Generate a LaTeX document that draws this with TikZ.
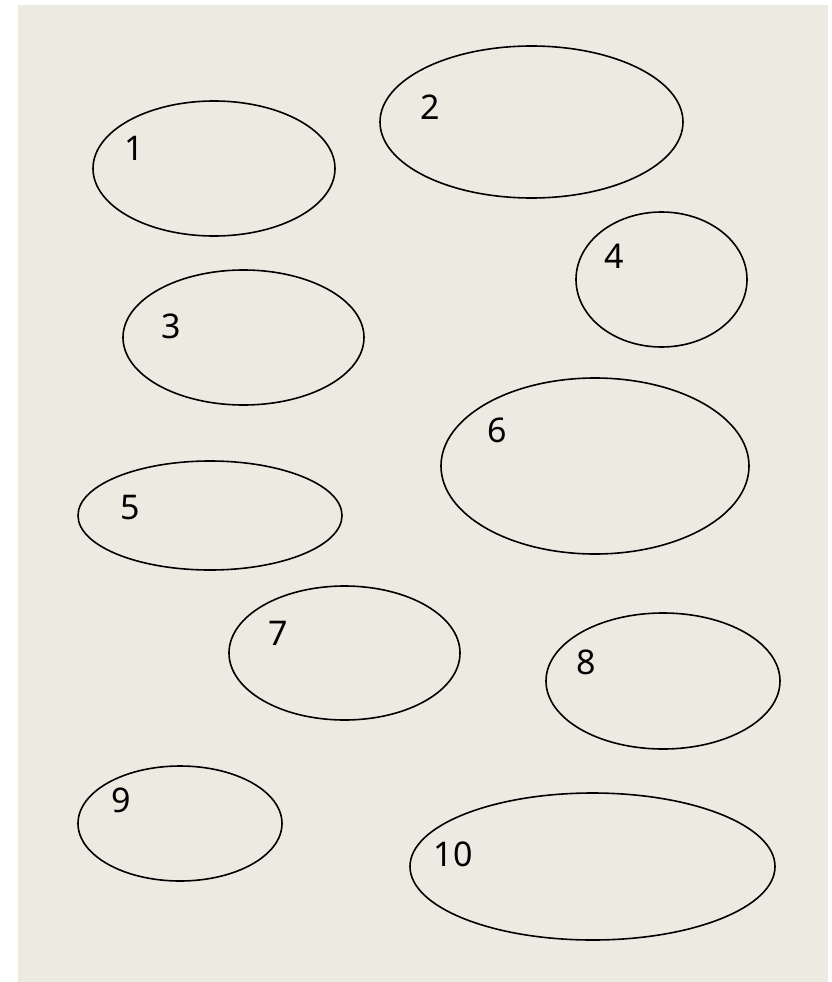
\documentclass[tikz,border=0pt]{standalone}
\usepackage{fontspec}
\setmainfont{Noto Sans}
\usetikzlibrary{shapes.geometric}
\definecolor{paperBg}{HTML}{EDEBE1}
\tikzset{
  oval/.style={ellipse, draw=black, line width=1.6pt, inner sep=0pt},
  num/.style={font=\fontsize{34}{40}\selectfont, inner sep=0pt, anchor=center},
}

\begin{document}
\begin{tikzpicture}[x=1pt, y=-1pt]

  % ---- Page and background -------------------------------------------------
  \useasboundingbox (0,0) rectangle (832,982);
  \fill[paperBg] (18,5) rectangle (828,982);

  % ---- Ovals ---------------------------------------------------------------
  \node[oval, minimum width=242pt, minimum height=135pt] (oval1)  at (214,168.5) {};
  \node[oval, minimum width=303pt, minimum height=152pt] (oval2)  at (531.5,122) {};
  \node[oval, minimum width=241pt, minimum height=135pt] (oval3)  at (243.5,337.5) {};
  \node[oval, minimum width=171pt, minimum height=135pt] (oval4)  at (661.5,279.5) {};
  \node[oval, minimum width=264pt, minimum height=109pt] (oval5)  at (210,515.5) {};
  \node[oval, minimum width=308pt, minimum height=176pt] (oval6)  at (595,466) {};
  \node[oval, minimum width=231pt, minimum height=134pt] (oval7)  at (344.5,653) {};
  \node[oval, minimum width=234pt, minimum height=136pt] (oval8)  at (663,681) {};
  \node[oval, minimum width=204pt, minimum height=115pt] (oval9)  at (180,823.5) {};
  \node[oval, minimum width=365pt, minimum height=147pt] (oval10) at (592.5,866.5) {};

  % ---- Numbers -------------------------------------------------------------
  \node[num] (num1)  at (134,148) {1};
  \node[num] (num2)  at (430,107) {2};
  \node[num] (num3)  at (171,326) {3};
  \node[num] (num4)  at (614,256.5) {4};
  \node[num] (num5)  at (130,508) {5};
  \node[num] (num6)  at (497,430) {6};
  \node[num] (num7)  at (278,633) {7};
  \node[num] (num8)  at (586,662) {8};
  \node[num] (num9)  at (121,800) {9};
  \node[num] (num10) at (453,854) {10};

\end{tikzpicture}
\end{document}
